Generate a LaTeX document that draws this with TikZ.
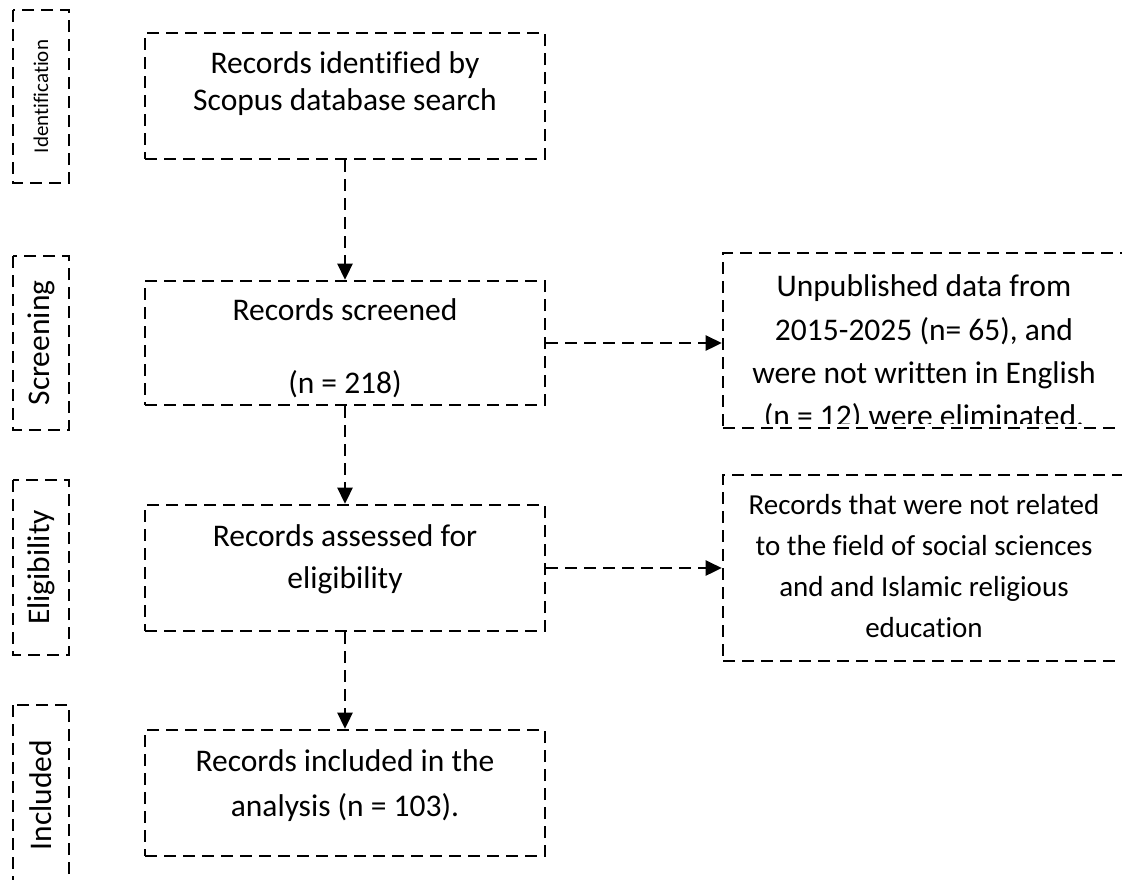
\documentclass[tikz,border=0pt]{standalone}
\usepackage{fontspec}
\setmainfont{Carlito}[Ligatures=NoCommon]
\usetikzlibrary{arrows.meta}

\begin{document}
\begin{tikzpicture}[x=1pt, y=-1pt,
  dbox/.style={draw, line width=2.6pt, dash pattern=on 12pt off 7pt, inner sep=0pt},
  phase/.style={dbox, rotate=90, minimum height=56pt, font=\fontsize{31.5}{36}\selectfont},
  stagebox/.style={dbox, minimum width=400pt, minimum height=126pt},
  txt/.style={align=center, inner sep=0pt},
  flow/.style={line width=2.6pt, dash pattern=on 12pt off 7pt, -{Triangle[length=16pt, width=15pt]}}]
  \useasboundingbox (0,0) rectangle (1122,879);
  % phase labels
  \node[phase, minimum width=173pt, font=\fontsize{21}{25}\selectfont] (idlab) at (41,96.5) {Identification};
  \node[phase, minimum width=174pt] (scrlab) at (41,343) {Screening};
  \node[phase, minimum width=175pt] (elilab) at (41,567.5) {Eligibility};
  \node[phase, minimum width=180pt] (inclab) at (41,795) {Included};
  % main column
  \node[stagebox] (b1) at (345,96) {};
  \node[txt, font=\fontsize{31.5}{37}\selectfont] (t1) at (345,83.5) {Records identified by\\Scopus database search};
  \node[stagebox, minimum height=124pt] (b2) at (345,343) {};
  \node[txt, font=\fontsize{31.5}{37}\selectfont] (t2) at (345,348.5) {Records screened\\[36pt](n = 218)};
  \node[stagebox] (b3) at (345,568) {};
  \node[txt, font=\fontsize{31.5}{42}\selectfont] (t3) at (345,559) {Records assessed for\\eligibility};
  \node[stagebox] (b4) at (345,793) {};
  \node[txt, font=\fontsize{31.5}{45}\selectfont] (t4) at (345,785.5) {Records included in the\\analysis (n = 103).};
  % exclusions
  \node[dbox, minimum width=402pt, minimum height=175pt, path picture={
    \clip (path picture bounding box.north west) rectangle ([yshift=5pt]path picture bounding box.south east);
    \node[txt, font=\fontsize{31.5}{43.3}\selectfont] (tx1) at ([yshift=-12.5pt]path picture bounding box.center)
      {Unpublished data from\\2015-2025 (n= 65), and\\were not written in English\\(n = 12) were eliminated.};
  }] (ex1) at (924,340.5) {};
  \node[dbox, minimum width=402pt, minimum height=186pt] (ex2) at (924,568) {};
  \node[txt, font=\fontsize{29}{41}\selectfont] (tx2) at (924,566.5)
    {Records that were not related\\to the field of social sciences\\and and Islamic religious\\education};
  % arrows
  \draw[flow] (b1) -- (b2);
  \draw[flow] (b2) -- (b3);
  \draw[flow] (b3) -- (b4);
  \draw[flow] (b2.east) -- (b2.east -| ex1.west);
  \draw[flow] (b3.east) -- (b3.east -| ex2.west);
\end{tikzpicture}
\end{document}
